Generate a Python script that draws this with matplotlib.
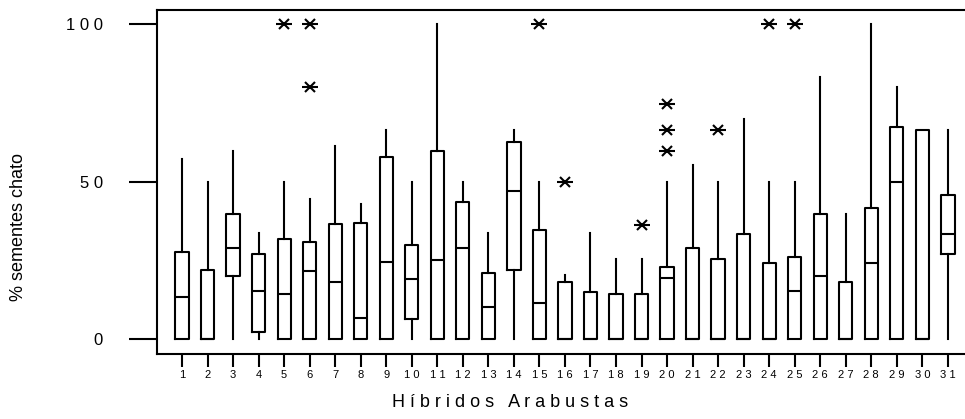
import matplotlib
matplotlib.use("Agg")
import matplotlib.pyplot as plt

plt.rcParams['font.family'] = ['Liberation Sans', 'DejaVu Sans']

# boxplot summaries (% sementes chato), hibridos 1..31
hibridos = list(range(1, 32))
q1 = [0, 0, 20.1, 2.2, 0, 0, 0, 0, 0, 6.4, 0, 0, 0, 22.0, 0, 0,
      0, 0, 0, 0, 0, 0, 0, 0, 0, 0, 0, 0, 0, 0, 27.1]
mediana = [13.5, 0, 28.9, 15.4, 14.5, 21.6, 18.3, 6.9, 24.4, 19.1, 25.3, 29.1, 10.2, 47.2, 11.6, 0,
           0, 0, 0, 19.6, 0, 0, 0, 0, 15.4, 20.1, 0, 24.3, 50.0, 0, 33.4]
q3 = [27.6, 22.0, 39.9, 27.0, 31.9, 30.9, 36.6, 37.0, 58.0, 29.9, 59.8, 43.5, 21.0, 62.5, 34.6, 18.3,
      15.1, 14.5, 14.5, 23.0, 28.9, 25.6, 33.4, 24.3, 26.2, 39.9, 18.1, 41.7, 67.3, 66.5, 45.7]
bigode_sup = [57.1, 50.0, 59.9, 33.8, 50.0, 44.5, 61.5, 43.0, 66.5, 50.0, 100.0, 50.0, 33.7, 66.5, 50.0, 20.3,
              33.7, 25.4, 25.4, 50.0, 55.3, 50.0, 69.8, 50.0, 50.0, 83.2, 39.9, 100.0, 80.0, 66.5, 66.5]
bigode_inf = [0] * 31
outliers = {5: [100], 6: [100, 80], 15: [100], 16: [50], 19: [36.3],
            20: [74.7, 66.5, 59.9], 22: [66.5], 24: [100], 25: [100]}

rotulos = [' '.join(str(h)) for h in hibridos]

stats = []
for i, h in enumerate(hibridos):
    stats.append({'med': mediana[i], 'q1': q1[i], 'q3': q3[i],
                  'whislo': bigode_inf[i], 'whishi': bigode_sup[i],
                  'fliers': outliers.get(h, [])})

fig = plt.figure(figsize=(9.65, 4.19), dpi=100)
ax = fig.add_axes([0.1627, 0.155, 1 - 0.1627, 0.821])

lw = 1.5
ax.bxp(stats, positions=hibridos, widths=0.52, showcaps=False,
       boxprops=dict(color='black', linewidth=lw),
       whiskerprops=dict(color='black', linewidth=lw),
       medianprops=dict(color='black', linewidth=lw),
       flierprops=dict(marker='x', markersize=7, markeredgewidth=1.5,
                       markeredgecolor='black', linestyle='none'))
for h, vals in outliers.items():
    ax.plot([h] * len(vals), vals, linestyle='none', marker='_',
            markersize=12, markeredgewidth=1.5, color='black')

ax.set_xlim(0.02, 31.67)
ax.set_ylim(-4.67, 104.5)
ax.set_xticks(hibridos)
ax.set_xticklabels(rotulos, fontsize=8)
ax.set_yticks([0, 50, 100])
ax.set_yticklabels(['0', '5 0', '1 0 0'], fontsize=12)
ax.tick_params(axis='y', direction='out', length=20, width=1.5, pad=19)
ax.tick_params(axis='x', direction='out', length=9.5, width=1.5, pad=2)

for s in ['left', 'bottom', 'top']:
    ax.spines[s].set_linewidth(1.5)
ax.spines['right'].set_visible(False)

# y label sits a bit below the axes centre in the original
fig.text(0.019, 1 - 227 / 419, '% sementes chato', fontsize=13,
         rotation=90, ha='center', va='center')
fig.text(0.5285, 0.04, 'H í b r i d o s   A r a b u s t a s', fontsize=13,
         ha='center', va='center')

fig.savefig('out.png', dpi=100)
